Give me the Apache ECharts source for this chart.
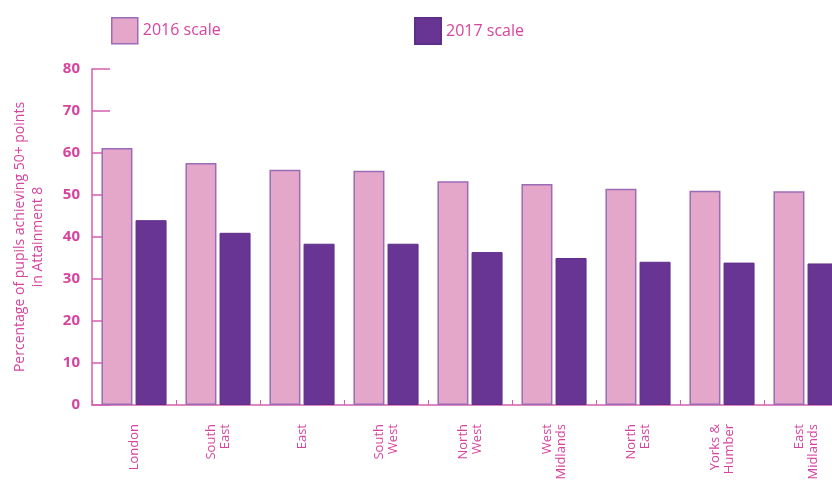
<!DOCTYPE html>
<html>
<head>
<meta charset="utf-8">
<script src="https://cdn.jsdelivr.net/npm/echarts@6/dist/echarts.min.js"></script>
<style>
  html, body { margin: 0; padding: 0; background: #fff; }
  #chart { width: 832px; height: 484px; }
</style>
</head>
<body>
<div id="chart"></div>
<script>
// regions, values
const regions = ['London', 'South\nEast', 'East', 'South\nWest', 'North\nWest', 'West\nMidlands', 'North\nEast', 'Yorks &\nHumber', 'East\nMidlands']
const scale2016 = [61.2, 57.6, 56, 55.8, 53.3, 52.6, 51.5, 51, 50.9]
const scale2017 = [44, 41, 38.4, 38.4, 36.4, 35, 34.1, 33.9, 33.7]
const yTicks = [0, 80, 10]  // min, max, interval

const pink = '#e4a7c9'
const purple = '#683594'
const magenta = '#d6449f'
const font = 'Open Sans'

var myChart = echarts.init(document.getElementById('chart'), null, { renderer: 'canvas' })

myChart.setOption({
  animation: false,
  textStyle: { fontFamily: font, color: magenta },
  legend: [
    {
      data: ['2016 scale'],
      left: 106, top: 12,
      icon: 'rect',
      itemWidth: 26, itemHeight: 26,
      itemStyle: { borderColor: '#9a6cb8', borderWidth: 1.5 },
      textStyle: { color: magenta, fontSize: 16, fontFamily: font }
    },
    {
      data: ['2017 scale'],
      left: 409, top: 12,
      icon: 'rect',
      itemWidth: 26, itemHeight: 26,
      textStyle: { color: magenta, fontSize: 16, fontFamily: font }
    }
  ],
  grid: { left: 92, top: 69, width: 756, height: 336, outerBoundsMode: 'none', containLabel: false },
  xAxis: {
    type: 'category',
    data: regions,
    axisLine: { lineStyle: { color: '#d65fae', width: 1.5 } },
    axisTick: { show: true, inside: true, length: 5, lineStyle: { color: '#d65fae' } },
    axisLabel: {
      interval: 0,
      rotate: 90,
      margin: 19,
      color: magenta,
      fontSize: 13,
      lineHeight: 14,
      align: 'right',
      fontFamily: font
    }
  },
  yAxis: {
    type: 'value',
    min: yTicks[0],
    max: yTicks[1],
    interval: yTicks[2],
    name: 'Percentage of pupils achieving 50+ points\nin Attainment 8',
    nameLocation: 'middle',
    nameGap: 45,
    nameTextStyle: { color: magenta, fontSize: 14, lineHeight: 18, align: 'center', fontFamily: font },
    axisLine: { show: true, lineStyle: { color: '#d65fae', width: 1.5 } },
    axisTick: { show: true, inside: true, length: 18, lineStyle: { color: '#d65fae', width: 1.5 } },
    axisLabel: { color: magenta, fontSize: 15, fontWeight: 'bold', margin: 12, fontFamily: font },
    splitLine: { show: false }
  },
  series: [
    {
      name: '2016 scale',
      type: 'bar',
      data: scale2016,
      barWidth: 31,
      barGap: '10%',
      itemStyle: { color: pink, borderColor: '#9a6cb8', borderWidth: 1.5 }
    },
    {
      name: '2017 scale',
      type: 'bar',
      data: scale2017,
      barWidth: 31,
      itemStyle: { color: purple, borderColor: '#5e2e88', borderWidth: 1 }
    }
  ]
})
</script>
</body>
</html>
